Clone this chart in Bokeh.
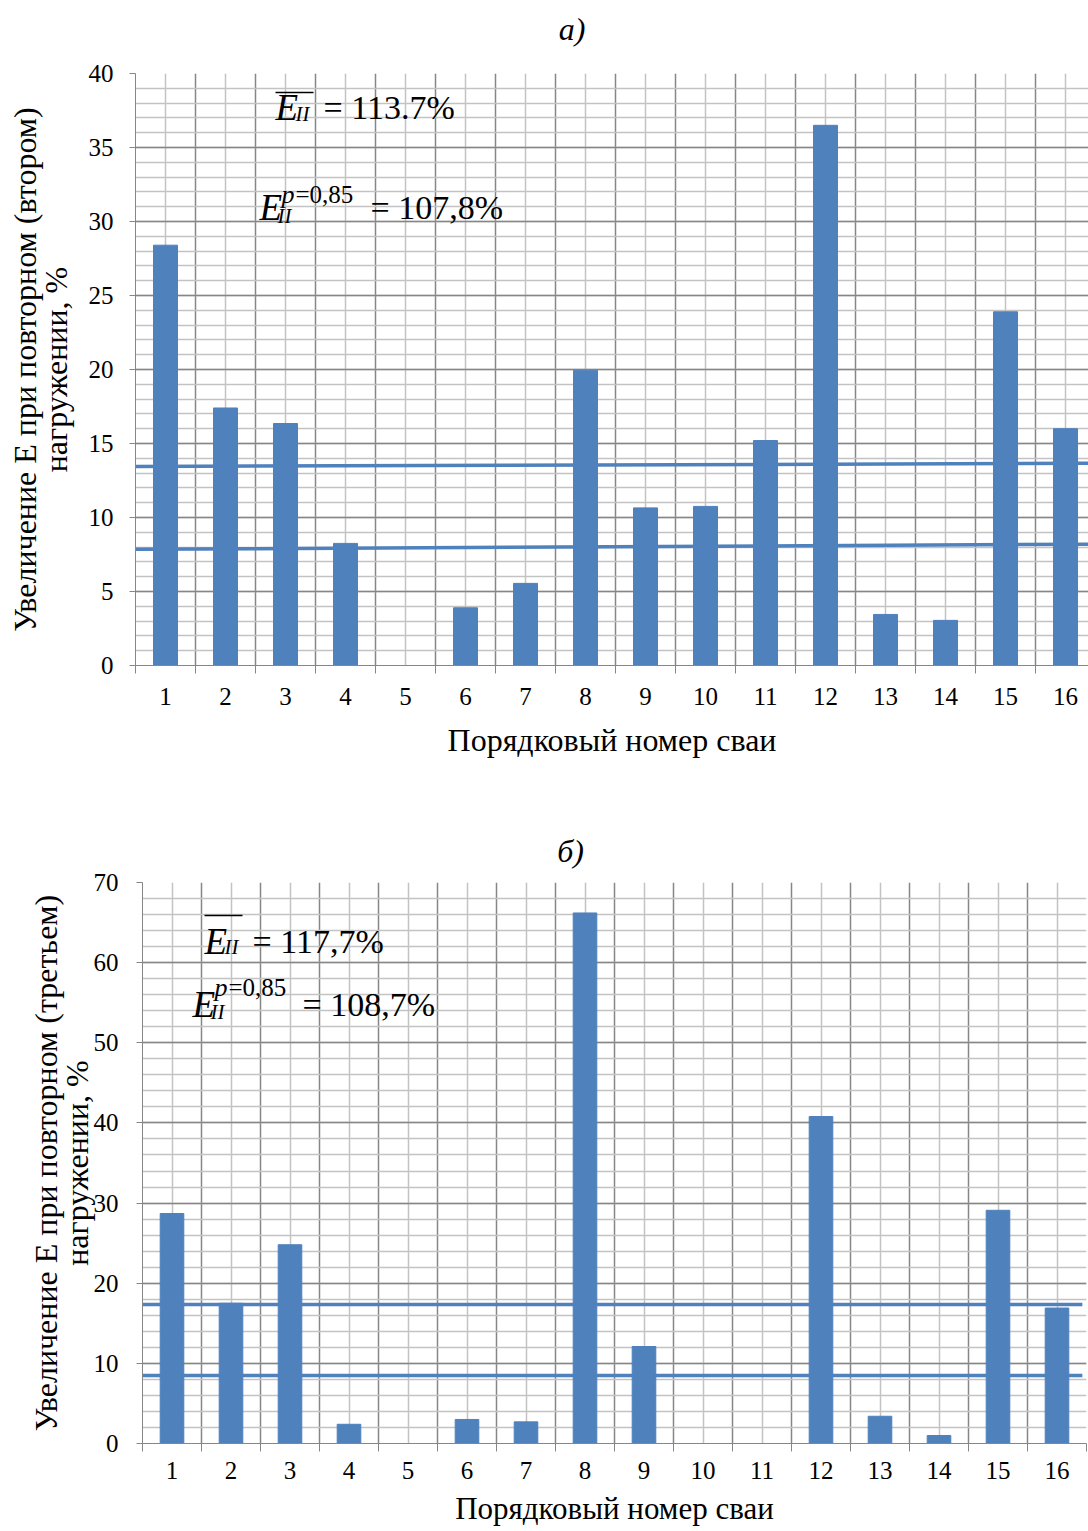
from bokeh.plotting import figure
from bokeh.models import (Range1d, FixedTicker, SingleIntervalTicker, Label,
                          LinearAxis)
from bokeh.embed import file_html
from bokeh.resources import INLINE

# ---------------- data ----------------
piles = list(range(1, 17))
tick_labels = [str(i) for i in piles]

incr_second = [28.4, 17.4, 16.35, 8.25, 0.0, 3.9, 5.55, 19.95,
               10.65, 10.75, 15.2, 36.5, 3.45, 3.05, 23.9, 16.0]
incr_third = [28.7, 17.5, 24.8, 2.4, 0.0, 3.0, 2.7, 66.2,
              12.1, 0.0, 0.0, 40.8, 3.4, 1.0, 29.1, 16.9]

# reference lines (start value, end value)
line_x_a = [0.5, 16.5]
mean_line_a = [13.45, 13.66]
p85_line_a = [7.85, 8.2]
line_x_b = [0.47, 16.43]
mean_line_b = [17.35, 17.35]
p85_line_b = [8.5, 8.5]

BLUE = "#4F81BD"
MAJOR = "#868686"
MINOR = "#C3C3C3"
FONT = "Liberation Serif"
TXT_SHIFT = 11  # label baseline correction, px
NBSP = "\u00a0"

boundaries = [i + 0.5 for i in range(0, 17)]
centers = [float(i) for i in piles]


def make_fig(ylabel, ymax, yint, frame_w, frame_h, bl, br, bt, bb, xr,
             xl_standoff, xt_standoff, yl_standoff, yt_standoff, xl_size):
    p = figure(output_backend="svg", toolbar_location=None,
               frame_width=frame_w, frame_height=frame_h,
               min_border_left=bl, min_border_right=br,
               min_border_top=bt, min_border_bottom=bb,
               x_range=Range1d(0.5, xr), y_range=Range1d(0, ymax))
    p.outline_line_color = None
    p.background_fill_color = "white"
    p.border_fill_color = "white"

    # x axis: labels at centers, tick marks at boundaries
    xa = p.xaxis[0]
    xa.ticker = FixedTicker(ticks=centers, minor_ticks=boundaries)
    xa.major_label_overrides = {float(i): s for i, s in zip(piles, tick_labels)}
    xa.major_tick_line_color = None
    xa.major_tick_in = 0
    xa.major_tick_out = 6
    xa.minor_tick_in = 0
    xa.minor_tick_out = 8
    xa.minor_tick_line_color = MAJOR
    xa.axis_line_color = MAJOR
    xa.major_label_text_font = FONT
    xa.major_label_text_font_size = "25px"
    xa.major_label_text_line_height = 1.0
    xa.major_label_text_color = "black"
    xa.major_label_standoff = xt_standoff
    xa.axis_label = "Порядковый номер сваи"
    xa.axis_label_text_font = FONT
    xa.axis_label_text_font_size = xl_size
    xa.axis_label_text_line_height = 1.0
    xa.axis_label_text_font_style = "normal"
    xa.axis_label_text_color = "black"
    xa.axis_label_standoff = xl_standoff

    ya = p.yaxis[0]
    ya.ticker = SingleIntervalTicker(interval=yint, num_minor_ticks=5)
    ya.major_tick_in = 0
    ya.major_tick_out = 6
    ya.major_tick_line_color = MAJOR
    ya.minor_tick_line_color = None
    ya.axis_line_color = MAJOR
    ya.major_label_text_font = FONT
    ya.major_label_text_font_size = "25px"
    ya.major_label_text_color = "black"
    ya.major_label_standoff = yt_standoff
    ya.axis_label = ylabel
    ya.axis_label_text_font = FONT
    ya.axis_label_text_font_size = "32px"
    ya.axis_label_text_line_height = 0.85
    ya.axis_label_text_font_style = "normal"
    ya.axis_label_text_color = "black"
    ya.axis_label_standoff = yl_standoff

    p.xgrid.ticker = FixedTicker(ticks=boundaries, minor_ticks=centers)
    p.xgrid.grid_line_color = MAJOR
    p.xgrid.grid_line_width = 1.5
    p.xgrid.minor_grid_line_color = MINOR
    p.xgrid.minor_grid_line_width = 1.5
    p.ygrid.grid_line_color = MAJOR
    p.ygrid.grid_line_width = 1.5
    p.ygrid.minor_grid_line_color = MINOR
    p.ygrid.minor_grid_line_width = 1.5
    return p


def add_title(p, text, pad, standoff):
    # title drawn as the label of an invisible top axis; trailing no-break
    # spaces move the centred text left to where the original title sits
    ax = LinearAxis(ticker=FixedTicker(ticks=[]))
    ax.axis_line_color = None
    ax.major_tick_line_color = None
    ax.minor_tick_line_color = None
    ax.major_tick_in = 0
    ax.major_tick_out = 0
    ax.major_label_standoff = 0
    ax.major_label_text_font_size = "1px"
    ax.axis_label = text + NBSP * pad
    ax.axis_label_text_font = FONT
    ax.axis_label_text_font_style = "italic"
    ax.axis_label_text_font_size = "32px"
    ax.axis_label_text_line_height = 1.0
    ax.axis_label_text_color = "black"
    ax.axis_label_standoff = standoff
    p.add_layout(ax, "above")


def add_formula(p, tox, toy, mean_text, p85_text, pos1, pos2, sup_dy):
    ex, by, eqx, oly, olr = pos1
    by = by - TXT_SHIFT
    p.add_layout(Label(x=tox(ex), y=toy(by), text="E", text_font=FONT,
                       text_font_style="italic", text_font_size="37px",
                       text_baseline="alphabetic", text_color="black"))
    p.add_layout(Label(x=tox(ex + 20), y=toy(by + 6), text="II", text_font=FONT,
                       text_font_style="italic", text_font_size="21px",
                       text_baseline="alphabetic", text_color="black"))
    p.segment(x0=[tox(ex)], y0=[toy(oly)], x1=[tox(olr)], y1=[toy(oly)],
              line_color="black", line_width=1.5)
    p.add_layout(Label(x=tox(eqx), y=toy(by), text=mean_text, text_font=FONT,
                       text_font_size="34px", text_baseline="alphabetic",
                       text_color="black"))
    ex2, by2, eqx2 = pos2
    by2 = by2 - TXT_SHIFT
    p.add_layout(Label(x=tox(ex2), y=toy(by2), text="E", text_font=FONT,
                       text_font_style="italic", text_font_size="37px",
                       text_baseline="alphabetic", text_color="black"))
    p.add_layout(Label(x=tox(ex2 + 18), y=toy(by2 + 8), text="II", text_font=FONT,
                       text_font_style="italic", text_font_size="21px",
                       text_baseline="alphabetic", text_color="black"))
    p.add_layout(Label(x=tox(ex2 + 22), y=toy(by2 + sup_dy), text="p", text_font=FONT,
                       text_font_style="italic", text_font_size="26px",
                       text_baseline="alphabetic", text_color="black"))
    p.add_layout(Label(x=tox(ex2 + 36), y=toy(by2 + sup_dy), text="=0,85", text_font=FONT,
                       text_font_size="25px", text_baseline="alphabetic",
                       text_color="black"))
    p.add_layout(Label(x=tox(eqx2), y=toy(by2), text=p85_text, text_font=FONT,
                       text_font_size="34px", text_baseline="alphabetic",
                       text_color="black"))


# ---------------- figure a ----------------
pa = make_fig("Увеличение Е при повторном (втором)\nнагружении, %",
              40, 5, 953, 592, 135, 0, 73, 99, 16.383,
              14, 14, 12, 16, "32px")
pa.vbar(x=centers, top=incr_second, width=0.4, fill_color=BLUE, line_color=BLUE)
pa.line(line_x_a, mean_line_a, line_color=BLUE, line_width=3.5)
pa.line(line_x_a, p85_line_a, line_color=BLUE, line_width=3.5)


def tox_a(px):
    return 0.5 + (px - 135) / 60.0


def toy_a(py):
    return (665 - py) / 14.8


add_title(pa, "а)", 10, 27)
add_formula(pa, tox_a, toy_a, "= 113.7%", "= 107,8%",
            (275, 118, 323, 92, 313), (259, 218, 370), -13)

# ---------------- figure b ----------------
pb = make_fig("Увеличение Е при повторном (третьем)\nнагружении, %",
              70, 10, 944, 561, 142, 2, 118, 87, 16.5,
              9, 10, -4, 18, "31px")
pb.vbar(x=centers, top=incr_third, width=0.4, fill_color=BLUE, line_color=BLUE)
pb.line(line_x_b, mean_line_b, line_color=BLUE, line_width=3.5)
pb.line(line_x_b, p85_line_b, line_color=BLUE, line_width=3.5)


def tox_b(px):
    return 0.5 + (px - 142) / 59.0


def toy_b(py):
    return (1443 - py) / 8.014


add_title(pb, "б)", 11, 14)
add_formula(pb, tox_b, toy_b, "= 117,7%", "= 108,7%",
            (204, 952, 252, 915, 242), (192, 1015, 302), -17)

open("out.html", "w").write(file_html((pa, pb), INLINE))
